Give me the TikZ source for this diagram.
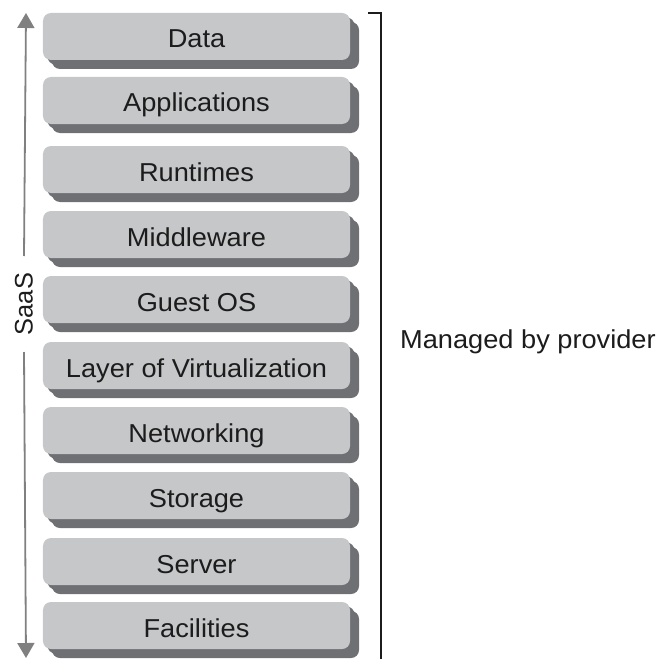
\documentclass[tikz,border=0pt]{standalone}
\usepackage{fontspec}
\setmainfont[FakeStretch=1.05]{Liberation Sans}
\newfontfamily\saasfont{Liberation Sans}
\usetikzlibrary{arrows.meta,shadows}
\definecolor{layerface}{RGB}{197,199,201}
\definecolor{layershade}{RGB}{110,112,115}
\definecolor{axisgray}{RGB}{128,128,128}
\definecolor{inkdark}{RGB}{28,28,28}
\tikzset{
  layer/.style={
    rectangle, rounded corners=8bp, fill=layerface,
    minimum width=307bp, minimum height=47bp, inner sep=0pt,
    text height=23bp, text depth=0pt,
    text=inkdark, font=\fontsize{26}{29}\selectfont,
    double copy shadow={shadow xshift=4.5bp, shadow yshift=-4.5bp, fill=layershade, opacity=1, draw=none},
  },
  axisline/.style={draw=axisgray, line width=1.8bp},
  axishead/.style={-{Triangle[length=15bp,width=17bp]}},
  bracket/.style={draw=inkdark, line width=2bp},
}
\begin{document}
\begin{tikzpicture}[x=1bp, y=-1bp]
\useasboundingbox (0,0) rectangle (665,659);

% stacked service layers
\node[layer] (data)  at (196.5, 36.5) {Data};
\node[layer] (apps)  at (196.5,100.5) {Applications};
\node[layer] (run)   at (196.5,169.5) {Runtimes};
\node[layer] (mid)   at (196.5,234.5) {Middleware};
\node[layer] (os)    at (196.5,299.5) {Guest OS};
\node[layer] (virt)  at (196.5,365.5) {Layer of Virtualization};
\node[layer] (net)   at (196.5,430.5) {Networking};
\node[layer] (store) at (196.5,495.5) {Storage};
\node[layer] (srv)   at (196.5,561.5) {Server};
\node[layer] (fac)   at (196.5,625.5) {Facilities};

% SaaS scope axis
\node[rotate=90, text=inkdark, inner sep=0pt, minimum width=96bp,
      font=\saasfont\fontsize{25.5}{28}\selectfont] (saas) at (24,304) {SaaS};
\coordinate (axtop) at (26,13);
\coordinate (axbot) at (26,658);
\draw[axisline, axishead] (saas.east |- 0,256) -- (axtop);
\draw[axisline, axishead] (saas.west |- 0,352) -- (axbot);

% provider bracket
\coordinate (brtop) at (381,13);
\coordinate (brtick) at (368,13);
\coordinate (brbot) at (381,662);
\draw[bracket] (brtick) -- (brtop) -- (brbot);
\node[anchor=base west, inner sep=0pt, text=inkdark,
      font=\fontsize{26}{29}\selectfont] (prov) at (400,348) {Managed by provider};
\end{tikzpicture}
\end{document}
